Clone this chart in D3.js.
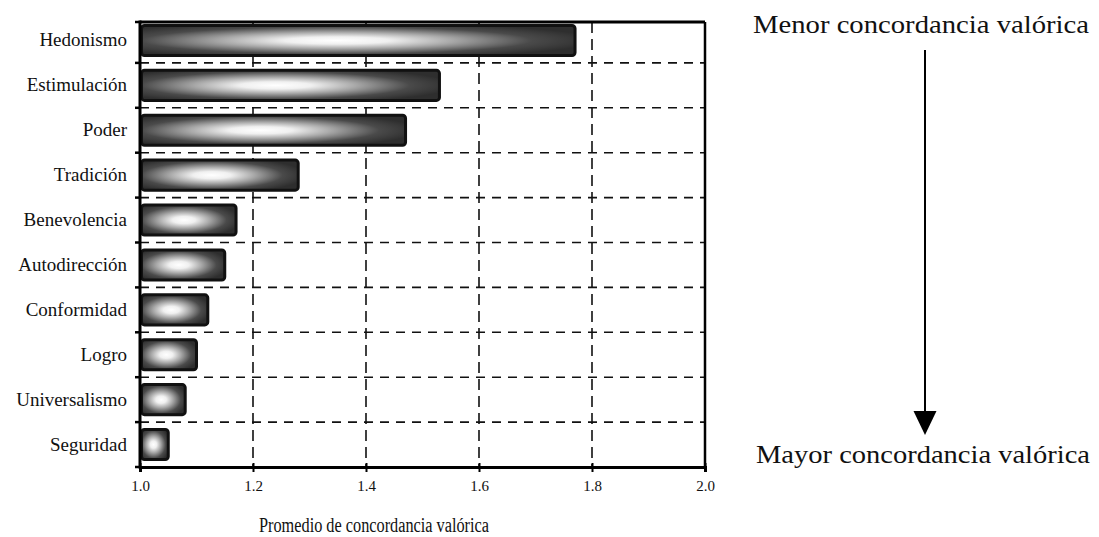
<!DOCTYPE html>
<html>
<head>
<meta charset="utf-8">
<script src="https://cdn.jsdelivr.net/npm/d3@7/dist/d3.min.js"></script>
<style>
  html, body { margin: 0; padding: 0; background: #fff; }
  svg { display: block; }
</style>
</head>
<body>
<svg id="chart" width="1099" height="537"></svg>
<script>
// ---- data ----
const categories = ["Hedonismo", "Estimulación", "Poder", "Tradición", "Benevolencia",
  "Autodirección", "Conformidad", "Logro", "Universalismo", "Seguridad"];
const values = [1.77, 1.53, 1.47, 1.28, 1.17, 1.15, 1.12, 1.10, 1.08, 1.05];
const xTicks = [1.0, 1.2, 1.4, 1.6, 1.8, 2.0];
const xTickLabels = ["1.0", "1.2", "1.4", "1.6", "1.8", "2.0"];
const gridValues = [1.2, 1.4, 1.6, 1.8];
const axisTitle = "Promedio de concordancia valórica";
const topNote = "Menor concordancia valórica";
const bottomNote = "Mayor concordancia valórica";

const SERIF = '"Liberation Serif", "DejaVu Serif", serif';

// ---- layout ----
const svg = d3.select("#chart");
const left = 140, right = 705, frameTop = 22, bottom = 467;

const x = d3.scaleLinear().domain([1.0, 2.0]).range([left, right]);
const y = d3.scaleBand().domain(categories).range([18, bottom])
  .paddingInner(0.33).paddingOuter(0.165);
const step = y.step();

// gradient
const defs = svg.append("defs");
const grad = defs.append("radialGradient").attr("id", "barGrad")
  .attr("cx", 0.45).attr("cy", 0.5).attr("r", 0.6);
[[0, "#ffffff"], [0.2, "#f0f0f0"], [0.45, "#a8a8a8"], [0.75, "#4a4a4a"], [1, "#2e2e2e"]]
  .forEach(([o, c]) => grad.append("stop").attr("offset", o).attr("stop-color", c));

// horizontal dashed separators between categories
const boundaries = categories.slice(0, -1).map(c => y(c) + y.bandwidth() + step * y.paddingInner() / 2);
svg.append("g").selectAll("line").data(boundaries).join("line")
  .attr("x1", left).attr("x2", right).attr("y1", d => d).attr("y2", d => d)
  .attr("stroke", "#111").attr("stroke-width", 1.6).attr("stroke-dasharray", "9,7");

// vertical dashed grid lines
svg.append("g").selectAll("line").data(gridValues).join("line")
  .attr("x1", d => x(d)).attr("x2", d => x(d)).attr("y1", frameTop).attr("y2", bottom)
  .attr("stroke", "#111").attr("stroke-width", 1.6).attr("stroke-dasharray", "11,6");

// bars
svg.append("g").selectAll("rect").data(categories).join("rect")
  .attr("x", x(1.0) + 1.5)
  .attr("y", d => y(d))
  .attr("width", (d, i) => x(values[i]) - x(1.0) - 1.5)
  .attr("height", y.bandwidth())
  .attr("rx", 3).attr("ry", 3)
  .attr("fill", "url(#barGrad)")
  .attr("stroke", "#111").attr("stroke-width", 3);

// frame
svg.append("line").attr("x1", left).attr("x2", right).attr("y1", frameTop).attr("y2", frameTop)
  .attr("stroke", "#000").attr("stroke-width", 3);
svg.append("line").attr("x1", right).attr("x2", right).attr("y1", frameTop).attr("y2", bottom)
  .attr("stroke", "#000").attr("stroke-width", 2.5);

// left axis
const yAxisTicks = [frameTop].concat(boundaries).concat([bottom]);
svg.append("line").attr("x1", left).attr("x2", left).attr("y1", frameTop - 1.5).attr("y2", bottom + 1.5)
  .attr("stroke", "#000").attr("stroke-width", 3);
svg.append("g").selectAll("line").data(yAxisTicks).join("line")
  .attr("x1", left - 5).attr("x2", left).attr("y1", d => d).attr("y2", d => d)
  .attr("stroke", "#000").attr("stroke-width", 2.5);
svg.append("g").selectAll("text").data(categories).join("text")
  .attr("x", 127).attr("y", d => y(d) + y.bandwidth() / 2 + 6)
  .attr("text-anchor", "end")
  .style("font-family", SERIF).style("font-size", "19px").style("fill", "#111")
  .text(d => d);

// bottom axis
const xAxis = d3.axisBottom(x).tickValues(xTicks).tickSize(5)
  .tickFormat((d, i) => xTickLabels[i]);
const gx = svg.append("g").attr("transform", `translate(0,${bottom})`).call(xAxis);
gx.select(".domain").attr("stroke", "#000").attr("stroke-width", 3);
gx.selectAll(".tick line").attr("stroke", "#000").attr("stroke-width", 2).attr("y1", -4);
gx.selectAll(".tick text")
  .style("font-family", SERIF).style("font-size", "15px")
  .style("fill", "#111").attr("dy", "1.05em");

// axis title
svg.append("text").attr("x", 374).attr("y", 532).attr("text-anchor", "middle")
  .style("font-family", SERIF).style("font-size", "20px").style("fill", "#111")
  .attr("textLength", 230).attr("lengthAdjust", "spacingAndGlyphs")
  .text(axisTitle);

// right annotation
const ax = 925;
svg.append("text").attr("x", 921).attr("y", 33).attr("text-anchor", "middle")
  .style("font-family", SERIF).style("font-size", "26px").style("fill", "#111")
  .attr("textLength", 336).attr("lengthAdjust", "spacingAndGlyphs")
  .text(topNote);
svg.append("line").attr("x1", ax).attr("x2", ax).attr("y1", 50).attr("y2", 414)
  .attr("stroke", "#000").attr("stroke-width", 2);
svg.append("path")
  .attr("d", `M${ax - 11.5},411 L${ax + 11.5},411 L${ax},435 Z`)
  .attr("fill", "#000");
svg.append("text").attr("x", 923).attr("y", 463).attr("text-anchor", "middle")
  .style("font-family", SERIF).style("font-size", "26px").style("fill", "#111")
  .attr("textLength", 334).attr("lengthAdjust", "spacingAndGlyphs")
  .text(bottomNote);
</script>
</body>
</html>
